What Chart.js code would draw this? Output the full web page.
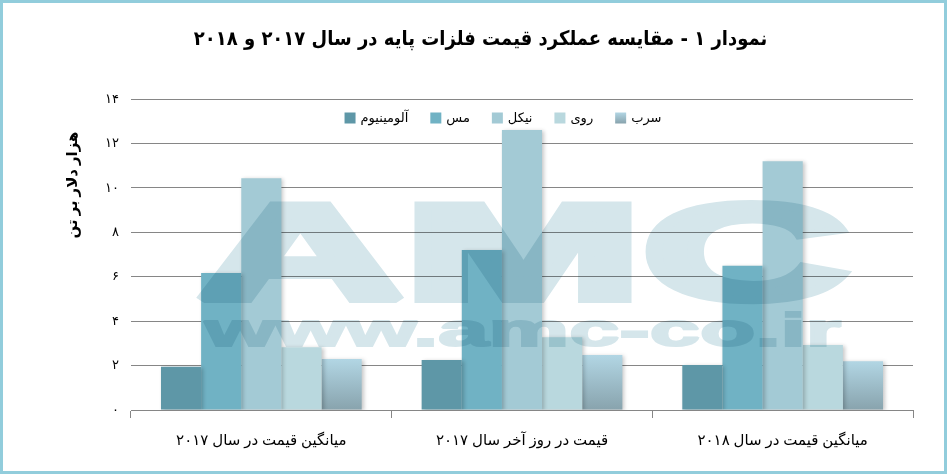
<!DOCTYPE html>
<html>
<head>
<meta charset="utf-8">
<script src="https://cdn.jsdelivr.net/npm/chart.js@4.4.1/dist/chart.umd.min.js"></script>
<style>
html,body{margin:0;padding:0;background:#fff;}
#wrap{width:947px;height:474px;position:relative;}
</style>
</head>
<body>
<div id="wrap"><canvas id="c"></canvas></div>
<script>
const categories = ['میانگین قیمت در سال 2017', 'قیمت در روز آخر سال 2017', 'میانگین قیمت در سال 2018'];
const seriesNames = ['آلومینیوم', 'مس', 'نیکل', 'روی', 'سرب'];
const aluminum = [1.95, 2.25, 2.03];
const copper = [6.17, 7.2, 6.49];
const nickel = [10.43, 12.6, 11.2];
const zinc = [2.82, 3.27, 2.93];
const lead = [2.3, 2.48, 2.2];
const yTicks = [0, 2, 4, 6, 8, 10, 12, 14];
const chartTitle = 'نمودار 1 - مقایسه عملکرد قیمت فلزات پایه در سال 2017 و 2018';
const yTitle = 'هزار دلار بر تن';
const watermark = ['AMC', 'www.amc-co.ir'];

const FA = '۰۱۲۳۴۵۶۷۸۹';
const toFa = s => String(s).replace(/[0-9]/g, d => FA[d]);
const FONT = '"Noto Sans", "DejaVu Sans", sans-serif';
const TFONT = '"DejaVu Sans Condensed", "DejaVu Sans", sans-serif';

function leadGradient(c, top, bottom) {
  const g = c.createLinearGradient(0, top, 0, bottom);
  g.addColorStop(0, '#b2d6e4');
  g.addColorStop(1, '#88a3ad');
  return g;
}
function leadColor(ctx) {
  const chart = ctx.chart;
  if (!chart.chartArea) return '#9fbcc6';
  const v = ctx.raw !== undefined ? ctx.raw : lead[0];
  return leadGradient(chart.ctx, chart.scales.y.getPixelForValue(v), chart.scales.y.getPixelForValue(0));
}

const frame = {
  id: 'frame',
  beforeDraw(chart) {
    const c = chart.ctx;
    c.save();
    c.fillStyle = '#ffffff';
    c.fillRect(0, 0, chart.width, chart.height);
    c.strokeStyle = '#92cddc';
    c.lineWidth = 3;
    c.strokeRect(1.5, 1.5, chart.width - 3, chart.height - 3);
    c.restore();
  }
};

function drawWatermark(chart) {
  const c = chart.ctx;
  const W = chart.width, H = chart.height;
  const off = document.createElement('canvas');
  off.width = W; off.height = H;
  const o = off.getContext('2d');
  o.fillStyle = '#d5e6eb';
  o.strokeStyle = '#d5e6eb';
  o.lineJoin = 'miter';
  o.miterLimit = 1.5;
  o.textBaseline = 'alphabetic';
  o.textAlign = 'left';
  o.font = 'bold 136px "Liberation Sans", sans-serif';
  let w = o.measureText(watermark[0]).width;
  o.save();
  o.translate(197, 299);
  o.scale(652 / w, 1);
  o.lineWidth = 8;
  o.fillText(watermark[0], 0, 0);
  o.strokeText(watermark[0], 0, 0);
  o.restore();
  o.font = 'bold 46px "Liberation Sans", sans-serif';
  w = o.measureText(watermark[1]).width;
  o.save();
  o.translate(205, 346);
  o.scale(636 / w, 1);
  o.lineWidth = 2;
  o.fillText(watermark[1], 0, 0);
  o.strokeText(watermark[1], 0, 0);
  o.restore();
  c.save();
  c.setTransform(1, 0, 0, 1, 0, 0);
  c.globalCompositeOperation = 'multiply';
  const dpr = chart.currentDevicePixelRatio || 1;
  c.drawImage(off, 0, 0, W * dpr, H * dpr);
  c.restore();
}

const shadow = {
  id: 'shadow',
  beforeDatasetsDraw(chart) {
    const c = chart.ctx;
    c.save();
    c.shadowColor = 'rgba(0,0,0,0.22)';
    c.shadowBlur = 4;
    c.shadowOffsetX = 2;
    c.shadowOffsetY = 1;
  },
  afterDatasetsDraw(chart) {
    chart.ctx.restore();
    drawWatermark(chart);
  }
};

const legendPlugin = {
  id: 'legendPlugin',
  afterDraw(chart) {
    const c = chart.ctx;
    c.save();
    c.font = '13px ' + FONT;
    c.textBaseline = 'middle';
    c.textAlign = 'left';
    const box = 11, gap = 5, sep = 22, cy = 118;
    const items = chart.data.datasets.map(d => ({ label: d.label, w: c.measureText(d.label).width, bg: d.backgroundColor }));
    const total = items.reduce((s, it) => s + box + gap + it.w, 0) + sep * (items.length - 1);
    let x = 503 - total / 2;
    items.forEach(it => {
      c.fillStyle = typeof it.bg === 'function' ? leadGradient(c, cy - box / 2, cy + box / 2) : it.bg;
      c.fillRect(x, cy - box / 2, box, box);
      x += box + gap;
      c.fillStyle = '#000';
      c.fillText(it.label, x, cy);
      x += it.w + sep;
    });
    c.restore();
  }
};

const yTitlePlugin = {
  id: 'yTitlePlugin',
  afterDraw(chart) {
    const c = chart.ctx;
    c.save();
    c.translate(73, 185);
    c.rotate(-Math.PI / 2);
    c.font = 'bold 15px ' + FONT;
    c.fillStyle = '#000';
    c.textAlign = 'center';
    c.textBaseline = 'middle';
    c.fillText(yTitle, 0, 0);
    c.restore();
  }
};

const data = {
  labels: categories.map(toFa),
  datasets: [
    { label: seriesNames[0], data: aluminum, backgroundColor: '#5e97a7' },
    { label: seriesNames[1], data: copper, backgroundColor: '#70b2c4' },
    { label: seriesNames[2], data: nickel, backgroundColor: '#a3cad5' },
    { label: seriesNames[3], data: zinc, backgroundColor: '#b9d8de' },
    { label: seriesNames[4], data: lead, backgroundColor: leadColor }
  ]
};

new Chart(document.getElementById('c'), {
  type: 'bar',
  data,
  plugins: [frame, shadow, legendPlugin, yTitlePlugin],
  options: {
    responsive: true,
    maintainAspectRatio: false,
    animation: false,
    layout: { padding: { left: 48, right: 34, top: 0, bottom: 0 } },
    datasets: { bar: { categoryPercentage: 0.77, barPercentage: 1.0, borderWidth: 0 } },
    plugins: {
      title: {
        display: true,
        text: toFa(chartTitle),
        color: '#000',
        font: { family: TFONT, size: 20, weight: 'bold', lineHeight: 1.2 },
        padding: { top: 28, bottom: 47 }
      },
      legend: { display: false },
      tooltip: { enabled: false }
    },
    scales: {
      x: {
        offset: true,
        grid: { offset: true, drawOnChartArea: false, drawTicks: true, tickLength: 8, color: '#868686' },
        border: { display: true, color: '#868686' },
        ticks: { color: '#000', font: { family: FONT, size: 15 }, padding: 14, maxRotation: 0 },
        afterFit(s) { s.height = 64; }
      },
      y: {
        min: 0,
        max: 14,
        afterBuildTicks(s) { s.ticks = yTicks.map(v => ({ value: v })); },
        grid: { color: '#868686', drawTicks: false },
        border: { display: false },
        ticks: { color: '#000', font: { family: FONT, size: 13 }, padding: 12, callback: v => toFa(v) },
        afterFit(s) { s.width = 83; }
      }
    }
  }
});
</script>
</body>
</html>
